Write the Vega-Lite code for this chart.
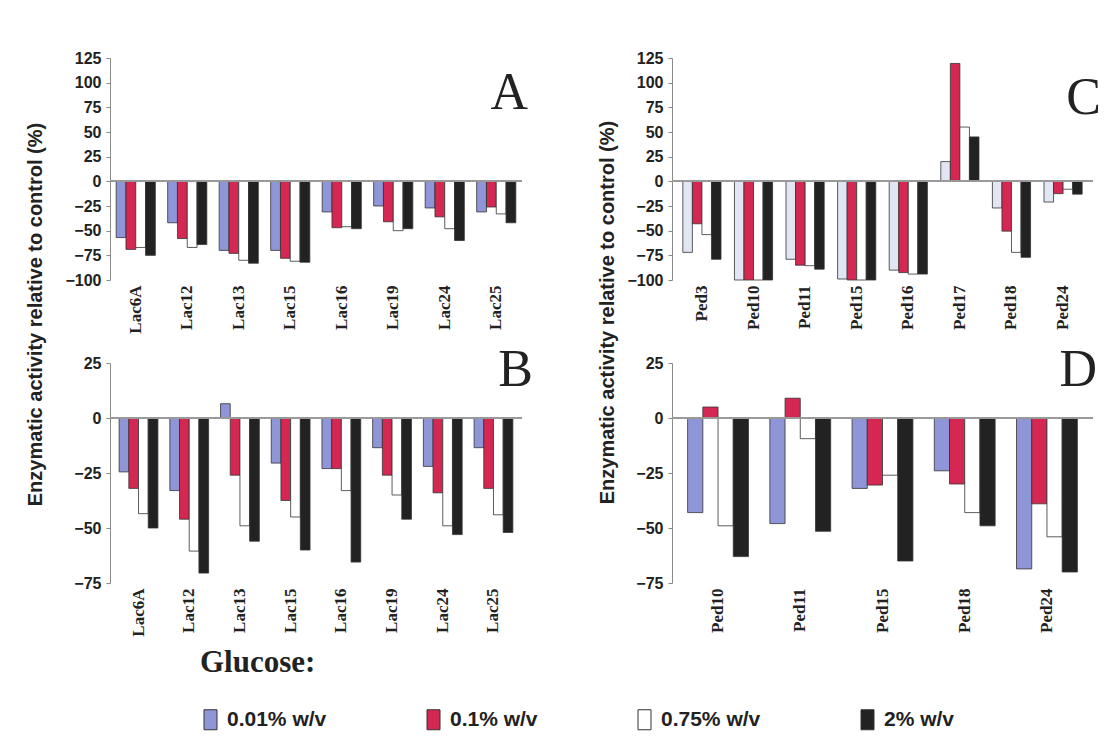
{
  "$schema": "https://vega.github.io/schema/vega-lite/v6.json",
  "background": "white",
  "padding": {"left": 24, "top": 50, "right": 5, "bottom": 5},
  "datasets": {
    "A": [
      {"strain": "Lac6A", "series": "0.01% w/v", "value": -57}, {"strain": "Lac6A", "series": "0.1% w/v", "value": -69}, {"strain": "Lac6A", "series": "0.75% w/v", "value": -67}, {"strain": "Lac6A", "series": "2% w/v", "value": -75},
      {"strain": "Lac12", "series": "0.01% w/v", "value": -42}, {"strain": "Lac12", "series": "0.1% w/v", "value": -58}, {"strain": "Lac12", "series": "0.75% w/v", "value": -67}, {"strain": "Lac12", "series": "2% w/v", "value": -64},
      {"strain": "Lac13", "series": "0.01% w/v", "value": -70}, {"strain": "Lac13", "series": "0.1% w/v", "value": -73}, {"strain": "Lac13", "series": "0.75% w/v", "value": -80}, {"strain": "Lac13", "series": "2% w/v", "value": -83},
      {"strain": "Lac15", "series": "0.01% w/v", "value": -70}, {"strain": "Lac15", "series": "0.1% w/v", "value": -78}, {"strain": "Lac15", "series": "0.75% w/v", "value": -81}, {"strain": "Lac15", "series": "2% w/v", "value": -82},
      {"strain": "Lac16", "series": "0.01% w/v", "value": -31}, {"strain": "Lac16", "series": "0.1% w/v", "value": -47}, {"strain": "Lac16", "series": "0.75% w/v", "value": -46}, {"strain": "Lac16", "series": "2% w/v", "value": -48},
      {"strain": "Lac19", "series": "0.01% w/v", "value": -25}, {"strain": "Lac19", "series": "0.1% w/v", "value": -41}, {"strain": "Lac19", "series": "0.75% w/v", "value": -50}, {"strain": "Lac19", "series": "2% w/v", "value": -48},
      {"strain": "Lac24", "series": "0.01% w/v", "value": -27}, {"strain": "Lac24", "series": "0.1% w/v", "value": -36}, {"strain": "Lac24", "series": "0.75% w/v", "value": -48}, {"strain": "Lac24", "series": "2% w/v", "value": -60},
      {"strain": "Lac25", "series": "0.01% w/v", "value": -31}, {"strain": "Lac25", "series": "0.1% w/v", "value": -26}, {"strain": "Lac25", "series": "0.75% w/v", "value": -33}, {"strain": "Lac25", "series": "2% w/v", "value": -42}
    ],
    "B": [
      {"strain": "Lac6A", "series": "0.01% w/v", "value": -24.5}, {"strain": "Lac6A", "series": "0.1% w/v", "value": -32}, {"strain": "Lac6A", "series": "0.75% w/v", "value": -43.5}, {"strain": "Lac6A", "series": "2% w/v", "value": -50},
      {"strain": "Lac12", "series": "0.01% w/v", "value": -33}, {"strain": "Lac12", "series": "0.1% w/v", "value": -46}, {"strain": "Lac12", "series": "0.75% w/v", "value": -60.5}, {"strain": "Lac12", "series": "2% w/v", "value": -70.5},
      {"strain": "Lac13", "series": "0.01% w/v", "value": 6.5}, {"strain": "Lac13", "series": "0.1% w/v", "value": -26}, {"strain": "Lac13", "series": "0.75% w/v", "value": -49}, {"strain": "Lac13", "series": "2% w/v", "value": -56},
      {"strain": "Lac15", "series": "0.01% w/v", "value": -20.5}, {"strain": "Lac15", "series": "0.1% w/v", "value": -37.5}, {"strain": "Lac15", "series": "0.75% w/v", "value": -45}, {"strain": "Lac15", "series": "2% w/v", "value": -60},
      {"strain": "Lac16", "series": "0.01% w/v", "value": -23}, {"strain": "Lac16", "series": "0.1% w/v", "value": -23}, {"strain": "Lac16", "series": "0.75% w/v", "value": -33}, {"strain": "Lac16", "series": "2% w/v", "value": -65.5},
      {"strain": "Lac19", "series": "0.01% w/v", "value": -13.5}, {"strain": "Lac19", "series": "0.1% w/v", "value": -26}, {"strain": "Lac19", "series": "0.75% w/v", "value": -35}, {"strain": "Lac19", "series": "2% w/v", "value": -46},
      {"strain": "Lac24", "series": "0.01% w/v", "value": -22}, {"strain": "Lac24", "series": "0.1% w/v", "value": -34}, {"strain": "Lac24", "series": "0.75% w/v", "value": -49}, {"strain": "Lac24", "series": "2% w/v", "value": -53},
      {"strain": "Lac25", "series": "0.01% w/v", "value": -13.5}, {"strain": "Lac25", "series": "0.1% w/v", "value": -32}, {"strain": "Lac25", "series": "0.75% w/v", "value": -44}, {"strain": "Lac25", "series": "2% w/v", "value": -52}
    ],
    "C": [
      {"strain": "Ped3", "series": "0.01% w/v", "value": -72}, {"strain": "Ped3", "series": "0.1% w/v", "value": -43}, {"strain": "Ped3", "series": "0.75% w/v", "value": -54}, {"strain": "Ped3", "series": "2% w/v", "value": -79},
      {"strain": "Ped10", "series": "0.01% w/v", "value": -100}, {"strain": "Ped10", "series": "0.1% w/v", "value": -100}, {"strain": "Ped10", "series": "0.75% w/v", "value": -100}, {"strain": "Ped10", "series": "2% w/v", "value": -100},
      {"strain": "Ped11", "series": "0.01% w/v", "value": -79}, {"strain": "Ped11", "series": "0.1% w/v", "value": -85}, {"strain": "Ped11", "series": "0.75% w/v", "value": -85.5}, {"strain": "Ped11", "series": "2% w/v", "value": -89},
      {"strain": "Ped15", "series": "0.01% w/v", "value": -99}, {"strain": "Ped15", "series": "0.1% w/v", "value": -100}, {"strain": "Ped15", "series": "0.75% w/v", "value": -100}, {"strain": "Ped15", "series": "2% w/v", "value": -100},
      {"strain": "Ped16", "series": "0.01% w/v", "value": -90}, {"strain": "Ped16", "series": "0.1% w/v", "value": -92.5}, {"strain": "Ped16", "series": "0.75% w/v", "value": -94}, {"strain": "Ped16", "series": "2% w/v", "value": -94},
      {"strain": "Ped17", "series": "0.01% w/v", "value": 20}, {"strain": "Ped17", "series": "0.1% w/v", "value": 119.5}, {"strain": "Ped17", "series": "0.75% w/v", "value": 55}, {"strain": "Ped17", "series": "2% w/v", "value": 45},
      {"strain": "Ped18", "series": "0.01% w/v", "value": -27}, {"strain": "Ped18", "series": "0.1% w/v", "value": -50.5}, {"strain": "Ped18", "series": "0.75% w/v", "value": -72}, {"strain": "Ped18", "series": "2% w/v", "value": -77},
      {"strain": "Ped24", "series": "0.01% w/v", "value": -21}, {"strain": "Ped24", "series": "0.1% w/v", "value": -12.5}, {"strain": "Ped24", "series": "0.75% w/v", "value": -8}, {"strain": "Ped24", "series": "2% w/v", "value": -13}
    ],
    "D": [
      {"strain": "Ped10", "series": "0.01% w/v", "value": -43}, {"strain": "Ped10", "series": "0.1% w/v", "value": 5}, {"strain": "Ped10", "series": "0.75% w/v", "value": -49}, {"strain": "Ped10", "series": "2% w/v", "value": -63},
      {"strain": "Ped11", "series": "0.01% w/v", "value": -48}, {"strain": "Ped11", "series": "0.1% w/v", "value": 9}, {"strain": "Ped11", "series": "0.75% w/v", "value": -9.4}, {"strain": "Ped11", "series": "2% w/v", "value": -51.5},
      {"strain": "Ped15", "series": "0.01% w/v", "value": -32}, {"strain": "Ped15", "series": "0.1% w/v", "value": -30.5}, {"strain": "Ped15", "series": "0.75% w/v", "value": -26}, {"strain": "Ped15", "series": "2% w/v", "value": -65},
      {"strain": "Ped18", "series": "0.01% w/v", "value": -24}, {"strain": "Ped18", "series": "0.1% w/v", "value": -30}, {"strain": "Ped18", "series": "0.75% w/v", "value": -43}, {"strain": "Ped18", "series": "2% w/v", "value": -49},
      {"strain": "Ped24", "series": "0.01% w/v", "value": -68.6}, {"strain": "Ped24", "series": "0.1% w/v", "value": -39}, {"strain": "Ped24", "series": "0.75% w/v", "value": -54}, {"strain": "Ped24", "series": "2% w/v", "value": -70}
    ]
  },
  "config": {
    "view": {"stroke": null},
    "axis": {"grid": false, "domainColor": "#8a8a8a", "tickColor": "#8a8a8a"},
    "axisY": {"labelFont": "Liberation Sans", "labelFontWeight": "bold", "labelFontSize": 16, "labelColor": "#222", "tickSize": 4, "labelPadding": 5, "labelOverlap": false},
    "axisX": {"labelFont": "Liberation Serif", "labelFontWeight": "bold", "labelFontSize": 17, "labelColor": "#222", "labelAngle": -90, "domain": false, "ticks": false, "labelPadding": 5, "title": null, "labelOverlap": false},
    "title": {"font": "Liberation Serif", "fontWeight": "normal", "fontSize": 52, "color": "#222", "anchor": "end", "frame": "group", "baseline": "alphabetic"}
  },
  "concat": [
    {
      "width": 412, "height": 222,
      "title": {"text": "A", "dy": 74, "dx": 6},
      "data": {"name": "A"},
      "layer": [
        {
          "mark": {"type": "bar", "stroke": "#333", "strokeWidth": 0.8},
          "encoding": {
            "x": {"field": "strain", "type": "nominal", "sort": null, "scale": {"paddingInner": 0.24, "paddingOuter": 0.12}},
            "xOffset": {"field": "series", "type": "nominal", "sort": ["0.01% w/v", "0.1% w/v", "0.75% w/v", "2% w/v"], "scale": {"paddingInner": 0, "paddingOuter": 0}},
            "y": {"field": "value", "type": "quantitative", "scale": {"domain": [-100, 125], "nice": false, "zero": false}, "axis": {"values": [-100, -75, -50, -25, 0, 25, 50, 75, 100, 125], "labelOverlap": false, "title": "Enzymatic activity relative to control (%)", "titleFont": "Liberation Sans", "titleFontWeight": "bold", "titleFontSize": 20, "titleColor": "#222", "titleX": -75, "titleY": 256, "titleBaseline": "middle", "titleAngle": -90, "titleAlign": "center"}},
            "color": {"field": "series", "type": "nominal", "scale": {"domain": ["0.01% w/v", "0.1% w/v", "0.75% w/v", "2% w/v"], "range": ["#8f96d8", "#d42752", "#ffffff", "#222222"]},
              "legend": {"title": "Glucose:", "orient": "none", "legendX": 90, "legendY": 590, "direction": "horizontal", "titleFont": "Liberation Serif", "titleFontSize": 31, "titleFontWeight": "bold", "titleColor": "#222", "titlePadding": 30, "labelFont": "Liberation Sans", "labelFontSize": 21, "labelFontWeight": "bold", "labelColor": "#222", "symbolType": "M-0.65,-1V1H0.65V-1Z", "symbolSize": 400, "symbolStrokeColor": "#222", "symbolStrokeWidth": 1, "symbolOpacity": 1, "columnPadding": 96, "labelOffset": 6, "labelLimit": 300}}
          }
        },
        {"mark": {"type": "rule", "color": "#999", "strokeWidth": 1}, "encoding": {"y": {"datum": 0, "type": "quantitative", "axis": {"values": [-100, -75, -50, -25, 0, 25, 50, 75, 100, 125], "labelOverlap": false, "title": "Enzymatic activity relative to control (%)", "titleFont": "Liberation Sans", "titleFontWeight": "bold", "titleFontSize": 20, "titleColor": "#222", "titleX": -75, "titleY": 256, "titleBaseline": "middle", "titleAngle": -90, "titleAlign": "center"}}}}
      ]
    },
    {
      "width": 421, "height": 222,
      "title": {"text": "C", "dy": 79, "dx": 8},
      "data": {"name": "C"},
      "layer": [
        {
          "mark": {"type": "bar", "stroke": "#333", "strokeWidth": 0.8},
          "encoding": {
            "x": {"field": "strain", "type": "nominal", "sort": null, "scale": {"paddingInner": 0.26, "paddingOuter": 0.21}},
            "xOffset": {"field": "series", "type": "nominal", "sort": ["0.01% w/v", "0.1% w/v", "0.75% w/v", "2% w/v"], "scale": {"paddingInner": 0, "paddingOuter": 0}},
            "y": {"field": "value", "type": "quantitative", "scale": {"domain": [-100, 125], "nice": false, "zero": false}, "axis": {"values": [-100, -75, -50, -25, 0, 25, 50, 75, 100, 125], "labelOverlap": false, "title": "Enzymatic activity relative to control (%)", "titleFont": "Liberation Sans", "titleFontWeight": "bold", "titleFontSize": 20, "titleColor": "#222", "titleX": -65, "titleY": 254, "titleBaseline": "middle", "titleAngle": -90, "titleAlign": "center"}},
            "fill": {"field": "series", "type": "nominal", "scale": {"domain": ["0.01% w/v", "0.1% w/v", "0.75% w/v", "2% w/v"], "range": ["#e0e6f4", "#d42752", "#ffffff", "#222222"]}, "legend": null}
          }
        },
        {"mark": {"type": "rule", "color": "#999", "strokeWidth": 1}, "encoding": {"y": {"datum": 0, "type": "quantitative", "axis": {"values": [-100, -75, -50, -25, 0, 25, 50, 75, 100, 125], "labelOverlap": false, "title": "Enzymatic activity relative to control (%)", "titleFont": "Liberation Sans", "titleFontWeight": "bold", "titleFontSize": 20, "titleColor": "#222", "titleX": -65, "titleY": 254, "titleBaseline": "middle", "titleAngle": -90, "titleAlign": "center"}}}}
      ]
    },
    {
      "width": 412, "height": 220,
      "title": {"text": "B", "dy": 46, "dx": 11},
      "data": {"name": "B"},
      "layer": [
        {
          "mark": {"type": "bar", "stroke": "#333", "strokeWidth": 0.8},
          "encoding": {
            "x": {"field": "strain", "type": "nominal", "sort": null, "scale": {"paddingInner": 0.235, "paddingOuter": 0.18}},
            "xOffset": {"field": "series", "type": "nominal", "sort": ["0.01% w/v", "0.1% w/v", "0.75% w/v", "2% w/v"], "scale": {"paddingInner": 0, "paddingOuter": 0}},
            "y": {"field": "value", "type": "quantitative", "scale": {"domain": [-75, 25], "nice": false, "zero": false}, "axis": {"values": [-75, -50, -25, 0, 25], "title": null}},
            "color": {"field": "series", "type": "nominal"}
          }
        },
        {"mark": {"type": "rule", "color": "#999", "strokeWidth": 1}, "encoding": {"y": {"datum": 0, "type": "quantitative", "axis": {"values": [-75, -50, -25, 0, 25], "title": null}}}}
      ]
    },
    {
      "width": 421, "height": 220,
      "title": {"text": "D", "dy": 46, "dx": 4},
      "data": {"name": "D"},
      "layer": [
        {
          "mark": {"type": "bar", "stroke": "#333", "strokeWidth": 0.8},
          "encoding": {
            "x": {"field": "strain", "type": "nominal", "sort": null, "scale": {"paddingInner": 0.26, "paddingOuter": 0.19}},
            "xOffset": {"field": "series", "type": "nominal", "sort": ["0.01% w/v", "0.1% w/v", "0.75% w/v", "2% w/v"], "scale": {"paddingInner": 0, "paddingOuter": 0}},
            "y": {"field": "value", "type": "quantitative", "scale": {"domain": [-75, 25], "nice": false, "zero": false}, "axis": {"values": [-75, -50, -25, 0, 25], "title": null}},
            "color": {"field": "series", "type": "nominal"}
          }
        },
        {"mark": {"type": "rule", "color": "#999", "strokeWidth": 1}, "encoding": {"y": {"datum": 0, "type": "quantitative", "axis": {"values": [-75, -50, -25, 0, 25], "title": null}}}}
      ]
    }
  ],
  "columns": 2,
  "spacing": {"row": 83, "column": 150},
  "bounds": "flush",
  "resolve": {"scale": {"x": "independent", "y": "independent", "xOffset": "independent"}}
}
